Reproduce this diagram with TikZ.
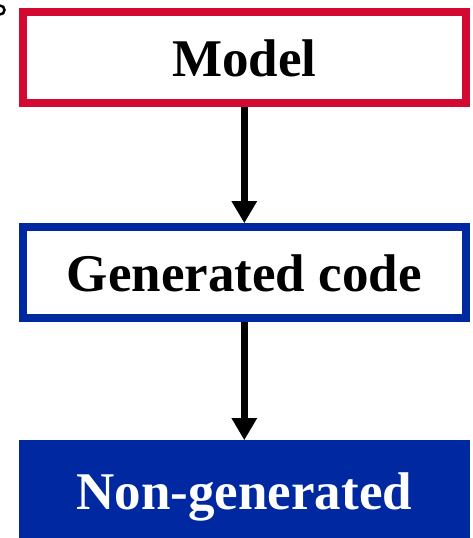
\documentclass[tikz,border=0pt]{standalone}
\usepackage{fontspec}
\setmainfont{Liberation Serif}
\usetikzlibrary{arrows.meta, positioning}
\definecolor{mred}{HTML}{D20A32}
\definecolor{mblue}{HTML}{0028A0}
\tikzstyle{layer} = [rectangle, minimum width=443pt, minimum height=91pt, line width=8pt, fill=white, text depth=0pt, font=\fontsize{53}{60}\selectfont\bfseries]
\tikzstyle{handwritten} = [layer, draw=none, line width=0pt, fill=mblue, text=white, minimum width=451pt, minimum height=102pt]
\tikzstyle{flow} = [line width=7.5pt, -{Triangle[width=24pt,length=22pt]}]

\begin{document}
\begin{tikzpicture}[x=1pt, y=1pt, node distance=116pt]
  \useasboundingbox (0,0) rectangle (472,538);
  \node (model) [layer, draw=mred] at (244.3,480.3) {Model};
  \node (gen) [layer, draw=mblue, below=of model] {Generated code};
  \node (ngen) [handwritten, below=118pt of gen] {Non-generated};
  \draw [flow] (model) -- (gen);
  \draw [flow] (gen) -- (ngen);
  % bit of a glyph cut off at the corner
  \draw [line width=2.5pt] (0,532.5) arc[start angle=90, end angle=-90, radius=4.5];
\end{tikzpicture}
\end{document}
